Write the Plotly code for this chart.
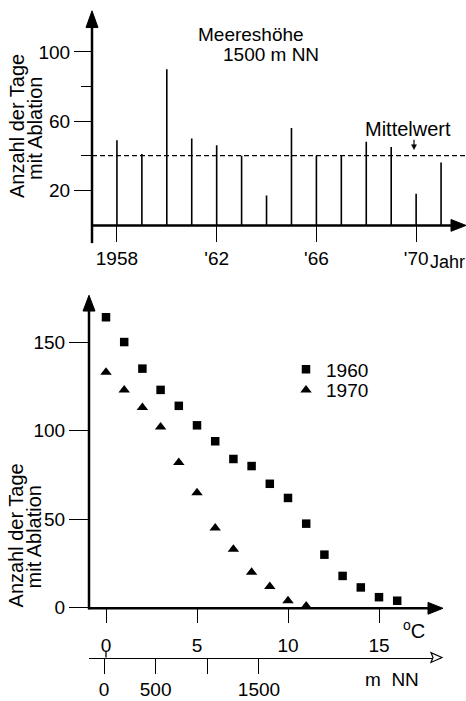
import plotly.graph_objects as go

# ---------------- data ----------------
years = [1958, 1959, 1960, 1961, 1962, 1963, 1964, 1965, 1966, 1967, 1968, 1969, 1970, 1971]
days_1500m = [49, 41, 90, 50, 46, 40, 17, 56, 40, 40, 48, 45, 18, 36]
mean_days = 40
year_ticks = [1958, 1962, 1966, 1970]
year_ticktext = ["1958", "'62", "'66", "'70"]

temp_1960 = [0, 1, 2, 3, 4, 5, 6, 7, 8, 9, 10, 11, 12, 13, 14, 15, 16]
days_1960 = [164, 150, 135, 123, 114, 103, 94, 84, 80, 70, 62, 47.5, 30, 18, 11.5, 6, 4]
temp_1970 = [0, 1, 2, 3, 4, 5, 6, 7, 8, 9, 10, 11]
days_1970 = [133, 123, 113, 102, 82, 65, 45, 33, 20, 12, 4, 1]

temp_ticks = [0, 5, 10, 15]
elev_ticks = [0, 500, 1500]
elev_minor_ticks = [1000]

W, H = 466, 701
FONT = "Liberation Sans, Arial, Helvetica, sans-serif"


def px(x):
    return x / W


def py(y):
    return 1 - y / H


# ---------------- figure ----------------
fig = go.Figure()

# top: stems
sx, sy = [], []
for yr, v in zip(years, days_1500m):
    sx += [yr, yr, None]
    sy += [0, v, None]
fig.add_trace(go.Scatter(x=sx, y=sy, mode="lines", line=dict(color="black", width=1.6),
                         xaxis="x", yaxis="y", showlegend=False, hoverinfo="skip"))
# mean line
x_top_range = [1957, 1957 + (466 - 92) / 25]
fig.add_trace(go.Scatter(x=x_top_range, y=[mean_days, mean_days], mode="lines",
                         line=dict(color="black", width=1.2, dash="5px,3px"),
                         xaxis="x", yaxis="y", showlegend=False, hoverinfo="skip"))

# bottom: scatter series
fig.add_trace(go.Scatter(x=temp_1960, y=days_1960, mode="markers", name="1960",
                         marker=dict(symbol="square", size=8.5, color="black"),
                         xaxis="x2", yaxis="y2", cliponaxis=False, legend="legend"))
fig.add_trace(go.Scatter(x=temp_1970, y=days_1970, mode="markers", name="1970",
                         marker=dict(symbol="triangle-up", size=10, color="black"),
                         xaxis="x2", yaxis="y2", cliponaxis=False, legend="legend2"))
# elevation axis carrier
fig.add_trace(go.Scatter(x=elev_ticks, y=[None] * len(elev_ticks), mode="markers",
                         xaxis="x3", yaxis="y2", showlegend=False, hoverinfo="skip"))

tickfont = dict(family=FONT, size=19, color="black")

# pixel mappings
x2_left = -(106 - 89) / 18.2
x2_right = (441 - 106) / 18.2
e0, eslope = 104, 0.1033  # px at 0 m, px per m

legfont = dict(family=FONT, size=19, color="black")
fig.update_layout(
    width=W, height=H,
    margin=dict(l=0, r=0, t=0, b=0),
    paper_bgcolor="white", plot_bgcolor="white",
    font=dict(family=FONT, color="black"),
    showlegend=True,
    legend=dict(x=px(286), y=py(356), xanchor="left", yanchor="top", font=legfont,
                bgcolor="rgba(0,0,0,0)", itemwidth=30),
    legend2=dict(x=px(286), y=py(377), xanchor="left", yanchor="top", font=legfont,
                 bgcolor="rgba(0,0,0,0)", itemwidth=30),
    xaxis=dict(domain=[px(92), px(465)], range=x_top_range, anchor="y",
               showgrid=False, zeroline=False, showline=False,
               tickmode="array", tickvals=year_ticks, ticktext=year_ticktext,
               ticks="outside", ticklen=16, tickwidth=1.3, tickcolor="black",
               tickfont=tickfont),
    yaxis=dict(domain=[py(228.5), py(13)], range=[0, (228.5 - 13) / 1.758], anchor="x",
               showgrid=False, zeroline=False, showline=False,
               tickmode="array", tickvals=[20, 60, 100],
               ticks="outside", ticklen=17, tickwidth=1.3, tickcolor="black",
               minor=dict(tickmode="array", tickvals=[40, 80], ticks="outside",
                          ticklen=10, tickwidth=1.3, tickcolor="black"),
               tickfont=tickfont),
    xaxis2=dict(domain=[px(89), px(441)], range=[x2_left, x2_right], anchor="y2",
                showgrid=False, zeroline=False, showline=False,
                tickmode="array", tickvals=temp_ticks,
                ticks="outside", ticklen=14, tickwidth=1.3, tickcolor="black",
                ticklabelstandoff=6, tickfont=tickfont),
    yaxis2=dict(domain=[py(617.5), py(302)], range=[0, (617.5 - 302) / 1.8], anchor="x2",
                showgrid=False, zeroline=False, showline=False,
                tickmode="array", tickvals=[0, 50, 100, 150],
                ticks="outside", ticklen=19, tickwidth=1.3, tickcolor="black",
                tickfont=tickfont),
    xaxis3=dict(overlaying="x2", anchor="free", position=py(668), side="bottom",
                range=[(89 - e0) / eslope, (441 - e0) / eslope],
                showgrid=False, zeroline=False,
                showline=True, linewidth=1.3, linecolor="black",
                tickmode="array", tickvals=elev_ticks,
                ticks="outside", ticklen=15, tickwidth=1.3, tickcolor="black",
                minor=dict(tickmode="array", tickvals=elev_minor_ticks, ticks="outside",
                           ticklen=15, tickwidth=1.3, tickcolor="black"),
                tickfont=tickfont),
)

shapes = []
# top y axis
shapes.append(dict(type="line", xref="paper", yref="paper", x0=px(92), x1=px(92),
                   y0=py(247), y1=py(24), line=dict(color="black", width=2.5)))
shapes.append(dict(type="path", xref="paper", yref="paper",
                   path=f"M {px(92)} {py(11)} L {px(86)} {py(28)} L {px(98)} {py(28)} Z",
                   fillcolor="black", line=dict(color="black", width=1)))
# top x axis
shapes.append(dict(type="line", xref="paper", yref="paper", x0=px(92), x1=px(455),
                   y0=py(229), y1=py(229), line=dict(color="black", width=2.5)))
shapes.append(dict(type="path", xref="paper", yref="paper",
                   path=f"M {px(466)} {py(229)} L {px(451)} {py(223)} L {px(451)} {py(235)} Z",
                   fillcolor="black", line=dict(color="black", width=1)))
# small arrow under "Mittelwert"
shapes.append(dict(type="line", xref="paper", yref="paper", x0=px(414), x1=px(414),
                   y0=py(142), y1=py(148), line=dict(color="black", width=1.2)))
shapes.append(dict(type="path", xref="paper", yref="paper",
                   path=f"M {px(414)} {py(152)} L {px(411.5)} {py(147)} L {px(416.5)} {py(147)} Z",
                   fillcolor="black", line=dict(color="black", width=0.5)))
# bottom y axis
shapes.append(dict(type="line", xref="paper", yref="paper", x0=px(89), x1=px(89),
                   y0=py(619), y1=py(312), line=dict(color="black", width=2.5)))
shapes.append(dict(type="path", xref="paper", yref="paper",
                   path=f"M {px(89)} {py(300)} L {px(83)} {py(316)} L {px(95)} {py(316)} Z",
                   fillcolor="black", line=dict(color="black", width=1)))
# bottom x axis
shapes.append(dict(type="line", xref="paper", yref="paper", x0=px(88), x1=px(432),
                   y0=py(618), y1=py(618), line=dict(color="black", width=2.5)))
shapes.append(dict(type="path", xref="paper", yref="paper",
                   path=f"M {px(443)} {py(618)} L {px(428)} {py(612)} L {px(428)} {py(624)} Z",
                   fillcolor="black", line=dict(color="black", width=1)))
# elevation axis: hollow arrow and small upward tick at 0
shapes.append(dict(type="path", xref="paper", yref="paper",
                   path=f"M {px(442)} {py(668)} L {px(431)} {py(663)} L {px(433)} {py(668)} L {px(431)} {py(673)} Z",
                   fillcolor="white", line=dict(color="black", width=1.2)))
shapes.append(dict(type="line", xref="paper", yref="paper", x0=px(106), x1=px(106),
                   y0=py(661), y1=py(668), line=dict(color="black", width=1.3)))
fig.update_layout(shapes=shapes)

ann = []


def txt(t, x, y, size=20, angle=0, xanchor="center"):
    ann.append(dict(text=t, x=px(x), y=py(y), xref="paper", yref="paper",
                    showarrow=False, xanchor=xanchor, yanchor="middle", textangle=angle,
                    font=dict(family=FONT, size=size, color="black")))


txt("Meereshöhe", 251, 35, size=19)
txt("1500 m NN", 271, 55, size=19)
txt("Mittelwert", 408, 131)
txt("Jahr", 447, 266, size=18)
txt("Anzahl der Tage", 17, 128, size=20, angle=-90)
txt("mit Ablation", 35, 131, size=20, angle=-90)
txt("Anzahl der Tage", 16, 544, size=20, angle=-90)
txt("mit Ablation", 34, 546, size=20, angle=-90)
txt("<sup>o</sup>C", 414, 640, size=20)
txt("m  NN", 392, 690, size=19)
fig.update_layout(annotations=ann)

fig.write_html("out.html")
